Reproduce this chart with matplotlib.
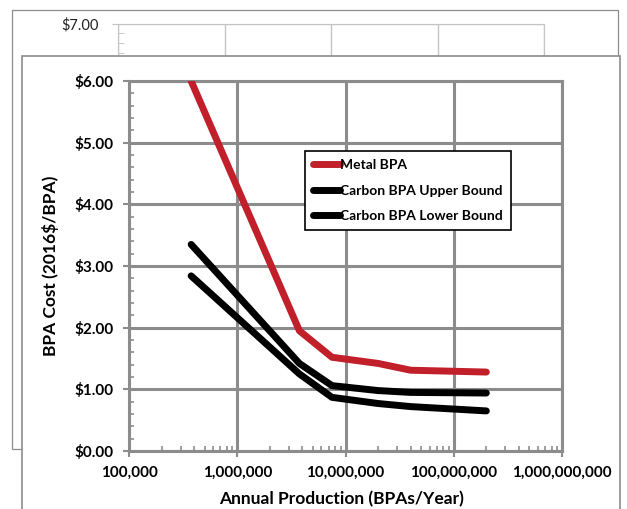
import numpy as np
import matplotlib
matplotlib.use('Agg')
import matplotlib.pyplot as plt
from matplotlib.patches import Rectangle
from matplotlib.ticker import FuncFormatter, LogLocator, MultipleLocator, NullFormatter

plt.rcParams['font.family'] = ['Lato', 'DejaVu Sans']

# annual production (BPAs/year) and cost ($/BPA)
production = [3.75e5, 3.75e6, 7.5e6, 2e7, 4e7, 2e8]
metal_bpa = [6.00, 1.95, 1.52, 1.42, 1.31, 1.28]
carbon_upper = [3.35, 1.42, 1.06, 0.98, 0.95, 0.94]
carbon_lower = [2.84, 1.25, 0.87, 0.77, 0.72, 0.65]
series_names = ['Metal BPA', 'Carbon BPA Upper Bound', 'Carbon BPA Lower Bound']
x_ticks = [1e5, 1e6, 1e7, 1e8, 1e9]

W, H = 627, 509
fig = plt.figure(figsize=(W / 100, H / 100), dpi=100)


def px(x0, y0, x1, y1):
    # pixel box (top-left origin) -> figure fraction rect
    return [x0 / W, 1 - y1 / H, (x1 - x0) / W, (y1 - y0) / H]


money = FuncFormatter(lambda v, p: '${:.2f}'.format(v))
commas = FuncFormatter(lambda v, p: '{:,.0f}'.format(v))

# chart sitting behind (only its top strip shows)
fig.patches.append(Rectangle((12 / W, 1 - 449 / H), 606 / W, 439.5 / H,
                             transform=fig.transFigure, facecolor='white',
                             edgecolor='#8c8c8c', lw=0.9, zorder=0))
bg = fig.add_axes(px(118, 23.5, 544, 373), zorder=1)
bg.set_xscale('log')
bg.set_xlim(1e5, 1e9)
bg.set_ylim(0, 7)
bg.yaxis.set_major_locator(MultipleLocator(1))
bg.yaxis.set_minor_locator(MultipleLocator(0.2))
# only the top label is not covered by the front chart
bg.yaxis.set_major_formatter(FuncFormatter(lambda v, p: '${:.2f}'.format(v) if v > 6.5 else ''))
bg.set_xticks(x_ticks)
bg.xaxis.set_major_formatter(FuncFormatter(lambda v, p: ''))
bg.grid(True, which='major', color='#c4c4c4', lw=1)
for s in bg.spines.values():
    s.set_color('#c4c4c4')
bg.tick_params(axis='y', which='major', colors='#c4c4c4', labelcolor='#222222',
               labelsize=10.5, length=4, pad=10)
bg.tick_params(axis='y', which='minor', colors='#c4c4c4', direction='in', length=4)

# front chart
fig.patches.append(Rectangle((22 / W, -0.1), 598 / W, 1 - 56 / H + 0.1,
                             transform=fig.transFigure, facecolor='white',
                             edgecolor='#8c8c8c', lw=1.2, zorder=2))
ax = fig.add_axes(px(129, 81, 562, 451), zorder=3)
ax.set_xscale('log')
ax.set_xlim(1e5, 1e9)
ax.set_ylim(0, 6)

ax.plot(production, metal_bpa, color='#c1202b', lw=5, solid_capstyle='round',
        label=series_names[0], zorder=3)
ax.plot(production, carbon_upper, color='black', lw=5, solid_capstyle='round',
        label=series_names[1], zorder=3)
ax.plot(production, carbon_lower, color='black', lw=5, solid_capstyle='round',
        label=series_names[2], zorder=3)

ax.set_xticks(x_ticks)
ax.xaxis.set_major_formatter(commas)
ax.xaxis.set_minor_locator(LogLocator(base=10, subs=np.arange(2, 10)))
ax.xaxis.set_minor_formatter(NullFormatter())
ax.yaxis.set_major_locator(MultipleLocator(1))
ax.yaxis.set_minor_locator(MultipleLocator(0.2))
ax.yaxis.set_major_formatter(money)
ax.grid(True, which='major', color='#8c8c8c', lw=2.2, zorder=1)
ax.set_axisbelow(True)
for s in ax.spines.values():
    s.set_color('#8c8c8c')
    s.set_linewidth(2.2)
ax.tick_params(which='major', colors='#8c8c8c', labelcolor='black', width=1.5,
               length=4, labelsize=11, pad=7)
ax.tick_params(which='minor', colors='#8c8c8c', direction='in', width=1.2, length=3.5)
for lab in ax.get_xticklabels() + ax.get_yticklabels():
    lab.set_fontweight('bold')

ax.set_xlabel('Annual Production (BPAs/Year)', fontsize=12.5, fontweight='bold', va='center')
ax.xaxis.set_label_coords(0.49, -0.13)
ax.set_ylabel('BPA Cost (2016$/BPA)', fontsize=12.5, fontweight='bold', va='center')
ax.yaxis.set_label_coords(-0.182, 0.5)

leg = ax.legend(loc='upper left', bbox_to_anchor=(305 / W, 1 - 151 / H),
                bbox_transform=fig.transFigure, frameon=True, fancybox=False,
                prop={'weight': 'bold', 'size': 10}, handlelength=1.9,
                handletextpad=0.0, borderpad=0.6, labelspacing=0.95,
                borderaxespad=0)
leg.get_frame().set_edgecolor('black')
leg.get_frame().set_linewidth(1.2)
leg.get_frame().set_alpha(1)

fig.savefig('out.png', dpi=100)
